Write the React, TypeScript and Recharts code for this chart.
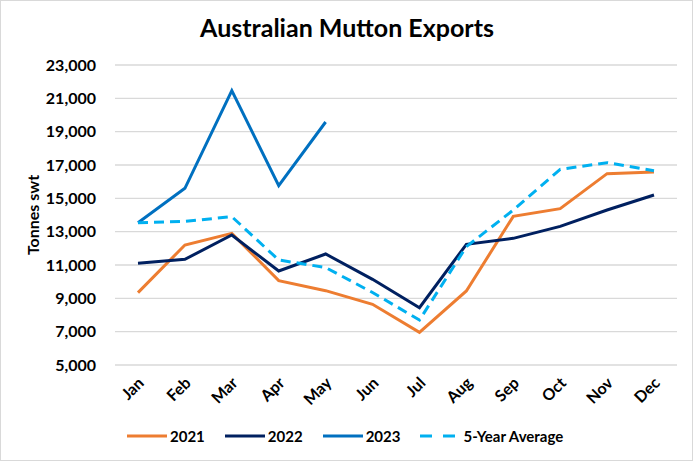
import React from "react";
import { LineChart, Line, XAxis, YAxis, CartesianGrid, Label } from "recharts";

const months = ["Jan", "Feb", "Mar", "Apr", "May", "Jun", "Jul", "Aug", "Sep", "Oct", "Nov", "Dec"];
const y2021 = [9340, 12200, 12900, 10060, 9460, 8640, 6960, 9440, 13920, 14380, 16480, 16580];
const y2022 = [11100, 11340, 12800, 10640, 11660, 10140, 8440, 12240, 12600, 13320, 14300, 15200];
const y2023 = [13540, 15600, 21460, 15760, 19580, null, null, null, null, null, null, null];
const avg5 = [13540, 13620, 13900, 11300, 10850, 9350, 7700, 12100, 14300, 16740, 17140, 16660];
const yTicks = [5000, 7000, 9000, 11000, 13000, 15000, 17000, 19000, 21000, 23000];

const FONT = "Lato, 'Open Sans', sans-serif";

const series = [
  { key: "y2021", name: "2021", color: "#ED7D31", dash: undefined as string | undefined },
  { key: "y2022", name: "2022", color: "#002060", dash: undefined },
  { key: "y2023", name: "2023", color: "#0070C0", dash: undefined },
  { key: "avg5", name: "5-Year Average", color: "#00B0F0", dash: "10 6" },
];

const data = months.map((m, i) => ({
  month: m,
  y2021: y2021[i],
  y2022: y2022[i],
  y2023: y2023[i],
  avg5: avg5[i],
}));

function MonthTick({ x, y, payload }: any) {
  const tx = x + 7;
  const ty = y + 11;
  return (
    <text
      x={tx}
      y={ty}
      transform={`rotate(-45 ${tx} ${ty})`}
      textAnchor="end"
      fontFamily={FONT}
      fontWeight={700}
      fontSize={16}
      fill="#000"
    >
      {payload.value}
    </text>
  );
}

export default function App() {
  return (
    <div style={{ position: "absolute", left: 0, top: 0, width: 694, height: 462, background: "#fff", fontFamily: FONT }}>
      <div style={{ position: "absolute", left: 0, top: 0, width: 691, height: 459, border: "1px solid #D9D9D9" }} />
      <div style={{
        position: "absolute", left: 0, top: 12, width: 694, textAlign: "center",
        fontSize: 25, fontWeight: 700, color: "#000",
      }}>
        Australian Mutton Exports
      </div>
      <div style={{ position: "absolute", left: 0, top: 0 }}>
        <LineChart width={694} height={462} data={data} margin={{ top: 65, right: 17, left: 0, bottom: 67 }}>
          <CartesianGrid vertical={false} stroke="#D9D9D9" strokeWidth={1.3} />
          <XAxis
            dataKey="month"
            axisLine={false}
            tickLine={false}
            height={30}
            interval={0}
            padding={{ left: 23, right: 23 }}
            tick={<MonthTick />}
          />
          <YAxis
            domain={[5000, 23000]}
            ticks={yTicks}
            width={115}
            axisLine={false}
            tickLine={false}
            tickSize={0}
            tickMargin={19}
            tickFormatter={(v: number) => v.toLocaleString("en-US")}
            tick={{ fontFamily: FONT, fontWeight: 700, fontSize: 16, fill: "#000" }}
          >
            <Label
              content={({ viewBox }: any) => {
                const cx = viewBox.x + 32;
                const cy = viewBox.y + viewBox.height / 2;
                return (
                  <text x={cx} y={cy} transform={`rotate(-90 ${cx} ${cy})`} textAnchor="middle"
                    dominantBaseline="central" fontFamily={FONT} fontWeight={700} fontSize={16} fill="#000">
                    Tonnes swt
                  </text>
                );
              }}
            />
          </YAxis>
          {series.map((s) => (
            <Line
              key={s.key}
              dataKey={s.key}
              name={s.name}
              type="linear"
              stroke={s.color}
              strokeWidth={3}
              strokeDasharray={s.dash}
              dot={false}
              activeDot={false}
              connectNulls={false}
              isAnimationActive={false}
            />
          ))}
        </LineChart>
      </div>
      <div style={{
        position: "absolute", left: 127, top: 427, display: "flex", alignItems: "center",
        fontSize: 15, fontWeight: 700, color: "#000",
      }}>
        {series.map((s) => (
          <div key={s.key} style={{ display: "flex", alignItems: "center", marginRight: 20 }}>
            <svg width={s.dash ? 35 : 40} height={6} style={{ marginRight: s.dash ? 8 : 3 }}>
              <line x1={0} y1={3} x2={s.dash ? 35 : 40} y2={3} stroke={s.color} strokeWidth={3}
                strokeDasharray={s.dash ? "12 11" : undefined} />
            </svg>
            <span>{s.name}</span>
          </div>
        ))}
      </div>
    </div>
  );
}
